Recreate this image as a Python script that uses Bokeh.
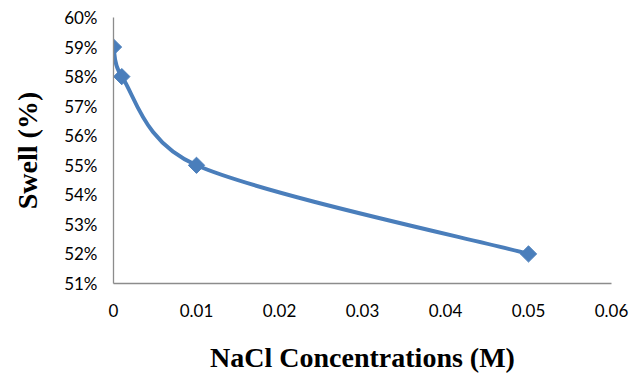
import math
from bokeh.plotting import figure
from bokeh.models import FixedTicker, NumeralTickFormatter, Range1d
from bokeh.embed import file_html
from bokeh.resources import INLINE

# Data
nacl = [0, 0.001, 0.01, 0.05]
swell = [0.59, 0.58, 0.55, 0.52]
x_ticks = [0, 0.01, 0.02, 0.03, 0.04, 0.05, 0.06]
y_ticks = [0.51, 0.52, 0.53, 0.54, 0.55, 0.56, 0.57, 0.58, 0.59, 0.60]

BLUE = "#4a7ebb"
AXIS = "#8c8c8c"

W, H = 643, 384
BL, BR, BT, BB = 113, 32, 17, 101
X0, X1, Y0, Y1 = 0, 0.06, 0.51, 0.60

p = figure(width=W, height=H, output_backend="svg", toolbar_location=None,
           x_range=Range1d(X0, X1), y_range=Range1d(Y0, Y1),
           min_border_left=BL, min_border_right=BR, min_border_top=BT, min_border_bottom=BB)
p.outline_line_color = None
p.xgrid.visible = False
p.ygrid.visible = False

# Smoothed line: Catmull-Rom style bezier segments in screen space,
# control arms limited to half the segment length (spreadsheet-like smoothing)
sx = (W - BL - BR) / (X1 - X0)
sy = (H - BT - BB) / (Y1 - Y0)
pts = [(x * sx, y * sy) for x, y in zip(nacl, swell)]
n = len(pts)


def arm(d, limit):
    L = math.hypot(d[0], d[1])
    if L > limit and L > 0:
        return (d[0] * limit / L, d[1] * limit / L)
    return d


x0s, y0s, x1s, y1s, cx0, cy0, cx1, cy1 = [], [], [], [], [], [], [], []
for i in range(n - 1):
    pm = pts[max(i - 1, 0)]
    pa = pts[i]
    pb = pts[i + 1]
    pp = pts[min(i + 2, n - 1)]
    lim = math.hypot(pb[0] - pa[0], pb[1] - pa[1]) / 2
    a1 = arm(((pb[0] - pm[0]) / 6, (pb[1] - pm[1]) / 6), lim)
    a2 = arm(((pp[0] - pa[0]) / 6, (pp[1] - pa[1]) / 6), lim)
    x0s.append(pa[0] / sx); y0s.append(pa[1] / sy)
    x1s.append(pb[0] / sx); y1s.append(pb[1] / sy)
    cx0.append((pa[0] + a1[0]) / sx); cy0.append((pa[1] + a1[1]) / sy)
    cx1.append((pb[0] - a2[0]) / sx); cy1.append((pb[1] - a2[1]) / sy)
p.bezier(x0=x0s, y0=y0s, x1=x1s, y1=y1s, cx0=cx0, cy0=cy0, cx1=cx1, cy1=cy1,
         line_color=BLUE, line_width=4)
p.scatter(nacl, swell, marker="square", angle=math.pi / 4, size=11.5,
          fill_color=BLUE, line_color=BLUE)

for ax in (p.xaxis[0], p.yaxis[0]):
    ax.axis_line_color = AXIS
    ax.axis_line_width = 1.3
    ax.major_tick_in = 0
    ax.major_tick_out = 0
    ax.minor_tick_in = 0
    ax.minor_tick_out = 0
    ax.major_label_text_font = "Lato"
    ax.major_label_text_font_size = "17px"
    ax.major_label_text_color = "#000000"
    ax.axis_label_text_font = "Liberation Serif"
    ax.axis_label_text_font_style = "bold"
    ax.axis_label_text_font_size = "28px"
    ax.axis_label_text_color = "#000000"

p.xaxis.ticker = FixedTicker(ticks=x_ticks)
p.yaxis.ticker = FixedTicker(ticks=y_ticks)
p.xaxis.formatter = NumeralTickFormatter(format="0.[00]")
p.yaxis.formatter = NumeralTickFormatter(format="0%")
p.xaxis.major_label_standoff = 20
p.yaxis.major_label_standoff = 16
p.xaxis.axis_label = "NaCl Concentrations (M)"
p.yaxis.axis_label = "Swell (%)"
p.xaxis.axis_label_standoff = 22
p.yaxis.axis_label_standoff = 18

open("out.html", "w").write(file_html(p, INLINE))
